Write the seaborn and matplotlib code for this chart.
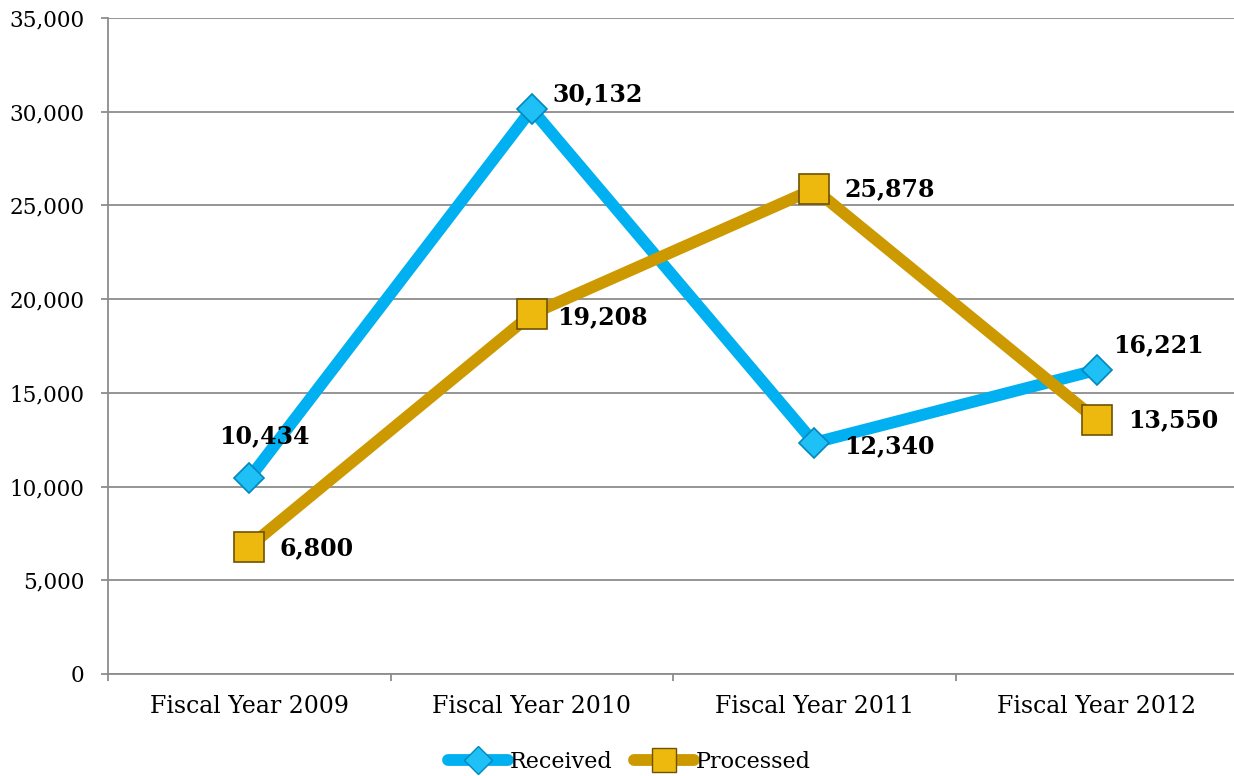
import pandas as pd
import seaborn as sns
import matplotlib.pyplot as plt
from matplotlib.ticker import FuncFormatter, FixedLocator
from matplotlib.lines import Line2D

# values
years = ["Fiscal Year 2009", "Fiscal Year 2010", "Fiscal Year 2011", "Fiscal Year 2012"]
received = [10434, 30132, 12340, 16221]
processed = [6800, 19208, 25878, 13550]
series_names = ["Received", "Processed"]

df = pd.DataFrame({
    "year": years * 2,
    "count": received + processed,
    "series": [series_names[0]] * 4 + [series_names[1]] * 4,
})
df["pos"] = [0, 1, 2, 3] * 2

sns.set_style("white")
plt.rcParams["font.family"] = ["DejaVu Serif"]
plt.rcParams["text.color"] = "black"

colors = {"Received": "#00B0F0", "Processed": "#CC9900"}
grey = "#8C8C8C"

fig = plt.figure(figsize=(12.34, 7.76), dpi=100)
ax = fig.add_axes([108 / 1234, 1 - 674 / 776, 1130 / 1234, (674 - 18) / 776])

sns.lineplot(data=df, x="pos", y="count", hue="series", palette=colors,
             linewidth=8.5, ax=ax, legend=False, sort=False)

# markers on top of lines
rec = df[df["series"] == "Received"]
pro = df[df["series"] == "Processed"]
ax.plot(rec["pos"], rec["count"], linestyle="none", marker="D", markersize=15,
        markerfacecolor="#1FC0F5", markeredgecolor="#0088C0", markeredgewidth=1.2, zorder=5)
ax.plot(pro["pos"], pro["count"], linestyle="none", marker="s", markersize=22,
        markerfacecolor="#EDB90E", markeredgecolor="#6E5200", markeredgewidth=1.2, zorder=5)

ax.set_xlim(-0.5, 3.5)
ax.set_ylim(0, 35000)
ax.yaxis.set_major_locator(FixedLocator(range(0, 35001, 5000)))
ax.yaxis.set_major_formatter(FuncFormatter(lambda v, p: f"{int(v):,}"))
ax.grid(axis="y", color=grey, linewidth=1.3)
ax.set_axisbelow(True)

ax.set_xticks([0, 1, 2, 3])
ax.set_xticklabels(years)
ax.set_xticks([-0.5, 0.5, 1.5, 2.5, 3.5], minor=True)
ax.tick_params(axis="x", which="major", length=0, pad=15, labelsize=17, labelcolor="black")
ax.tick_params(axis="x", which="minor", length=5, width=1.3, color=grey, direction="out")
ax.tick_params(axis="y", length=5, width=1.3, color=grey, direction="out",
               labelsize=15.5, pad=12, labelcolor="black")
ax.tick_params(bottom=True, left=True, which="both")
ax.set_xlabel("")
ax.set_ylabel("")

for s in ["top", "right"]:
    ax.spines[s].set_visible(False)
for s in ["left", "bottom"]:
    ax.spines[s].set_color(grey)
    ax.spines[s].set_linewidth(1.3)

# data labels
rec_off = [(15, 42, "center"), (21, 15, "left"), (30, -3, "left"), (16, 25, "left")]
pro_off = [(30, -2, "left"), (25, -3, "left"), (30, 0, "left"), (31, 0, "left")]
for vals, offs in [(received, rec_off), (processed, pro_off)]:
    for i, (v, (dx, dy, ha)) in enumerate(zip(vals, offs)):
        ax.annotate(f"{v:,}", (i, v), xytext=(dx, dy), textcoords="offset pixels",
                    ha=ha, va="center", fontsize=17, fontweight="bold",
                    color="black", zorder=6)

# legend
handles = [
    Line2D([], [], color=colors["Received"], linewidth=8.5, marker="D", markersize=14,
           markerfacecolor="#1FC0F5", markeredgecolor="#0088C0"),
    Line2D([], [], color=colors["Processed"], linewidth=8.5, marker="s", markersize=17,
           markerfacecolor="#EDB90E", markeredgecolor="#6E5200"),
]
fig.legend(handles, series_names, loc="lower center", bbox_to_anchor=(0.51, -0.022),
           ncol=2, frameon=False, fontsize=16, handlelength=2.7, handletextpad=0.05,
           columnspacing=1.0)

fig.savefig("out.png", dpi=100)
